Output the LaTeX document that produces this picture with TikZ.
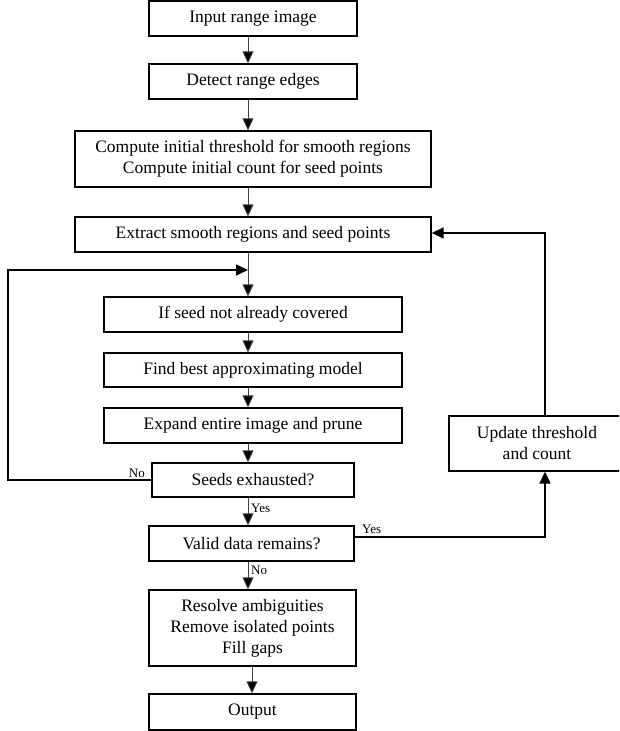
\documentclass[tikz,border=0pt]{standalone}
\usepackage{fontspec}
\setmainfont{Liberation Serif}
\usetikzlibrary{arrows.meta}
\tikzset{
  box/.style={draw, line width=1.3pt, minimum height=35pt, inner sep=0pt, align=center,
    font=\fontsize{17.5}{21}\selectfont},
  flow/.style={line width=0.9pt, draw=black!75, -{Triangle[length=12pt,width=11pt,fill=black]}},
  back/.style={line width=1.6pt, -{Triangle[length=12pt,width=11pt]}},
  lab/.style={font=\fontsize{13}{15}\selectfont, inner sep=0pt},
}
\begin{document}
\begin{tikzpicture}[x=1pt,y=-1pt]
\clip (0,0) rectangle (619,731);
\fill[white] (0,0) rectangle (619,731);
% nodes
\node[box, minimum width=208pt] (in) at (253,18.5) {Input range image};
\node[box, minimum width=208pt] (det) at (253,81.5) {Detect range edges};
\node[box, minimum width=356pt, minimum height=56pt] (comp) at (253,159)
  {Compute initial threshold for smooth regions\\Compute initial count for seed points};
\node[box, minimum width=356pt] (ext) at (253,234.5) {Extract smooth regions and seed points};
\node[box, minimum width=298pt] (seed) at (253,314.5) {If seed not already covered};
\node[box, minimum width=298pt, minimum height=34pt] (find) at (253,370) {Find best approximating model};
\node[box, minimum width=298pt] (exp) at (253,425.5) {Expand entire image and prune};
\node[box, minimum width=202pt, minimum height=34pt] (exh) at (253,480) {Seeds exhausted?};
\node[box, minimum width=205pt] (valid) at (251.5,543.5) {Valid data remains?};
\node[box, minimum width=207pt, minimum height=76pt] (res) at (252.5,628)
  {Resolve ambiguities\\Remove isolated points\\Fill gaps};
\node[box, minimum width=207pt, minimum height=36pt] (out) at (252.5,712) {Output};
\node[box, minimum width=176pt, minimum height=55pt] (upd) at (537,443.5)
  {Update threshold\\and count};
% helper coordinates
\coordinate (ax) at (248,0);
\coordinate (bx) at (252,0);
\coordinate (rx) at (545,0);
\coordinate (j) at (248,270);
\coordinate (lc) at (8,270);
\coordinate (vy) at (0,537);
\coordinate (ey) at (0,233);
% main flow
\draw[flow] (in.south -| ax) -- (det.north -| ax);
\draw[flow] (det.south -| ax) -- (comp.north -| ax);
\draw[flow] (comp.south -| ax) -- (ext.north -| ax);
\draw[flow] (ext.south -| ax) -- (seed.north -| ax);
\draw[flow] (seed.south -| ax) -- (find.north -| ax);
\draw[flow] (find.south -| ax) -- (exp.north -| ax);
\draw[flow] (exp.south -| ax) -- (exh.north -| ax);
\draw[flow] (exh.south -| ax) -- (valid.north -| ax);
\draw[flow] (valid.south -| ax) -- (res.north -| ax);
\draw[flow] (res.south -| bx) -- (out.north -| bx);
% loops
\draw[back] (exh.west) -| (lc) -- (j);
\draw[back] (vy -| valid.east) -| (upd.south -| rx);
\draw[back] (upd.north -| rx) |- (ey -| ext.east);
% labels
\node[lab, anchor=base east] (lno) at (145,477) {No};
\node[lab, anchor=base west] (lyes) at (251,512) {Yes};
\node[lab, anchor=base west] (ryes) at (362,533) {Yes};
\node[lab, anchor=base west] (vno) at (251,574) {No};
\end{tikzpicture}
\end{document}
